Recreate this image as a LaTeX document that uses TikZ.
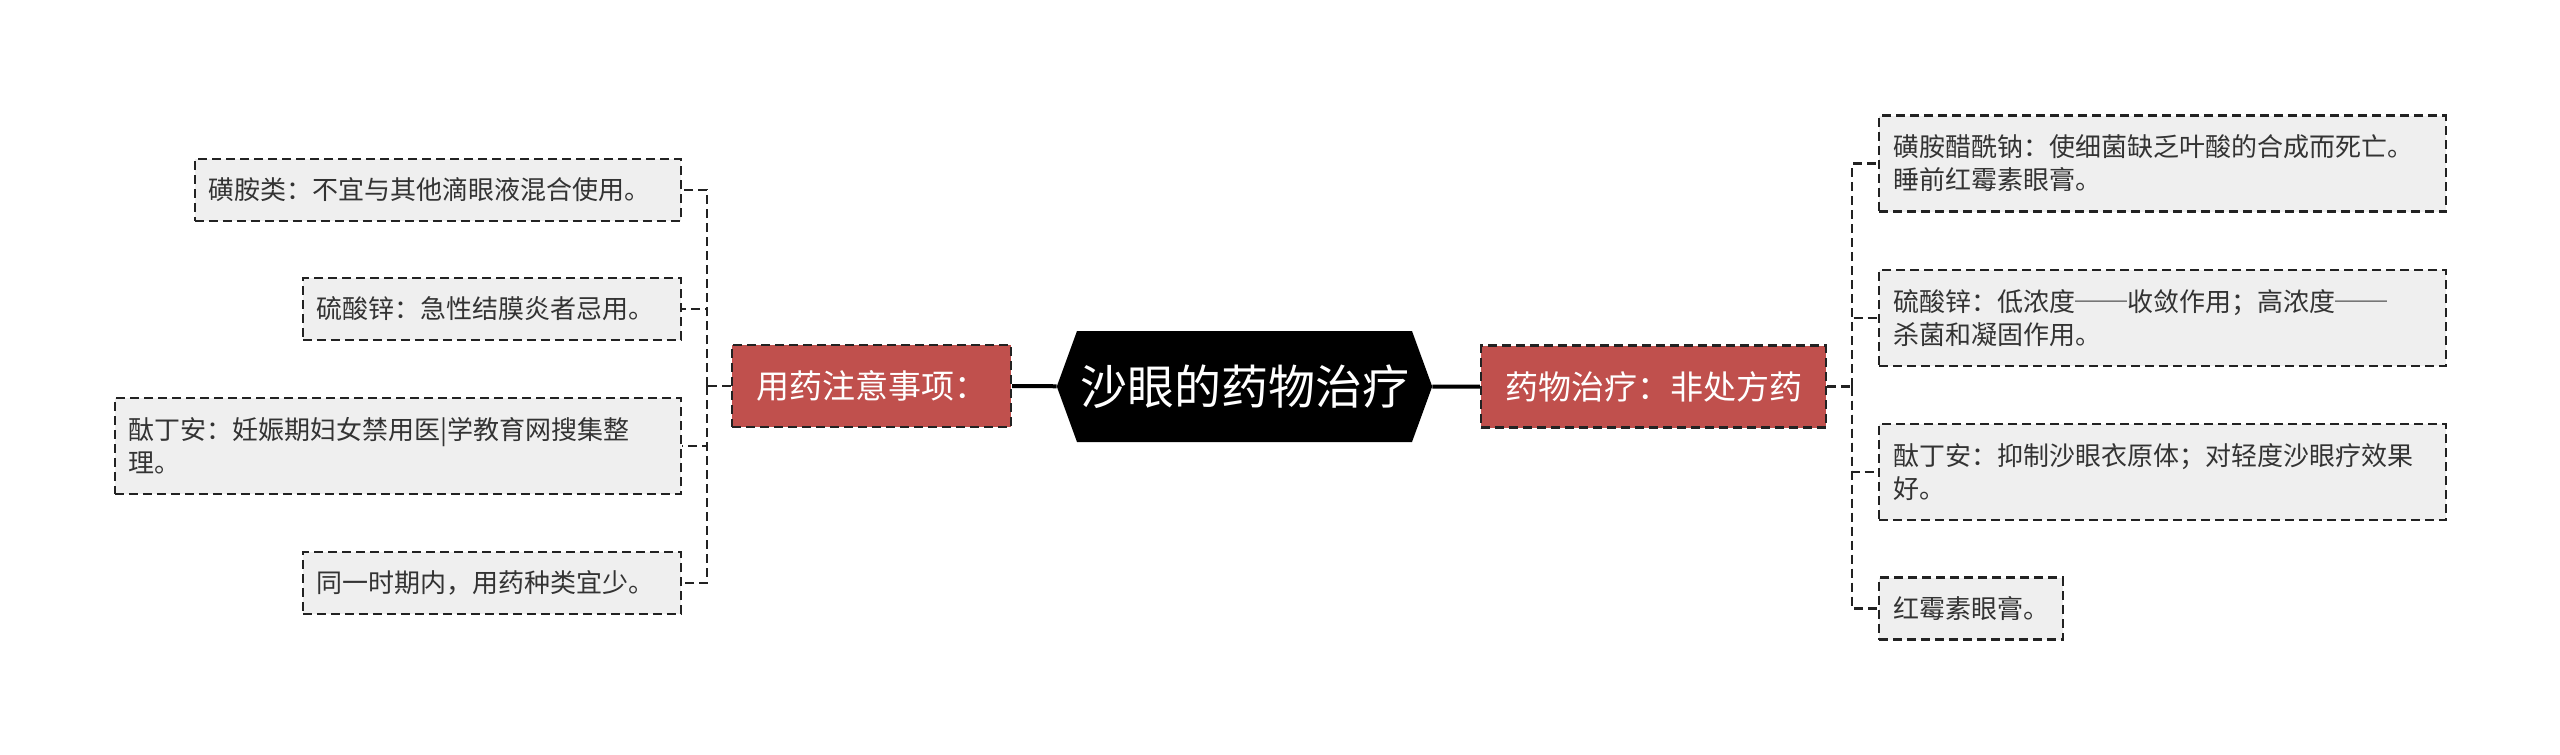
\documentclass[tikz,border=0pt]{standalone}
\usepackage{fontspec}
\setmainfont{Noto Sans CJK SC}
\usetikzlibrary{shapes.symbols}
\definecolor{topicred}{HTML}{C0504D}
\definecolor{leafgray}{HTML}{EFEFEF}
\definecolor{edgedark}{HTML}{222222}

\begin{document}
\begin{tikzpicture}[x=1pt, y=-1pt]
			\tikzset{root/.style={shape=signal, signal to=west and east, signal pointer angle=140, fill=black, text=white, inner xsep=3pt, minimum height=111pt, font=\fontsize{47}{52}\selectfont},
				topic/.style={draw=edgedark, fill=topicred, text=white, dash pattern=on 9pt off 5pt, line width=2.3pt, inner xsep=24pt, minimum height=82pt, font=\fontsize{33}{38}\selectfont},
				leaf/.style={draw=edgedark, fill=leafgray, text=black!80, dash pattern=on 9pt off 5pt, line width=2.3pt, align=left, inner xsep=14pt, minimum height=62pt, font=\fontsize{26}{33}\selectfont},
				link/.style={draw=edgedark, dash pattern=on 9pt off 5pt, line width=2.3pt},
				trunk/.style={draw=black, line width=4pt}}
			\useasboundingbox (0,0) rectangle (2560,755);
			
			\node[root] (c) at (1244.5,386.5) {沙眼的药物治疗};
			\node[topic] (t_l) at (871.5,386) {用药注意事项：};
			\node[topic] (t_r) at (1653.5,386.5) {药物治疗：非处方药};
			\coordinate (b_l) at (707,386);
			\coordinate (b_r) at (1852,386.5);
			
			\node[leaf, anchor=east, text width=458pt] (l_1) at (682,190) {磺胺类：不宜与其他滴眼液混合使用。};
			\node[leaf, anchor=east, text width=350pt] (l_2) at (682,309) {硫酸锌：急性结膜炎者忌用。};
			\node[leaf, anchor=east, text width=538pt, minimum height=96pt] (l_3) at (682,446) {酞丁安：妊娠期妇女禁用医|学教育网搜集整\\理。};
			\node[leaf, anchor=east, text width=350pt] (l_4) at (682,583) {同一时期内，用药种类宜少。};
			
			\node[leaf, anchor=west, text width=539pt, minimum height=96pt] (r_1) at (1878,163.5) {磺胺醋酰钠：使细菌缺乏叶酸的合成而死亡。\\睡前红霉素眼膏。};
			\node[leaf, anchor=west, text width=539pt, minimum height=96pt] (r_2) at (1878,318) {硫酸锌：低浓度──收敛作用；高浓度──\\杀菌和凝固作用。};
			\node[leaf, anchor=west, text width=539pt, minimum height=96pt] (r_3) at (1878,472) {酞丁安：抑制沙眼衣原体；对轻度沙眼疗效果\\好。};
			\node[leaf, anchor=west] (r_4) at (1878,608.5) {红霉素眼膏。};
			
			\draw[trunk] (t_l) -- (c);
			\draw[trunk] (c) -- (t_r);
			\draw[link] (t_l.west) -- (b_l);
			\draw[link] (t_r.east) -- (b_r);
			\foreach \i in {1,...,4} {
				\draw[link] (b_l) |- (l_\i.east);
				\draw[link] (b_r) |- (r_\i.west);
			}
			
		\end{tikzpicture}
\end{document}
